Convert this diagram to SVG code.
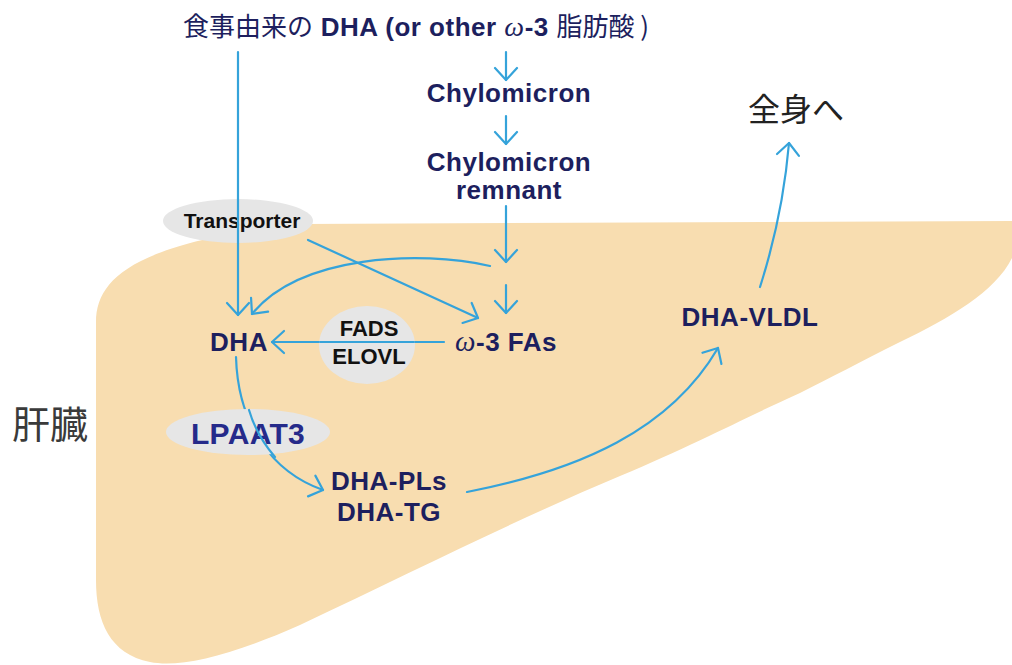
<svg xmlns="http://www.w3.org/2000/svg" width="1012" height="665" viewBox="0 0 1012 665">
  <style>
    .lbl { font-family: "Liberation Sans", Arial, "Noto Sans CJK JP", sans-serif; font-weight: bold; font-size: 26px; letter-spacing: 0.5px; fill: #1d1f5e; text-anchor: middle; }
    .jp { font-family: "Noto Sans CJK JP", sans-serif; font-weight: normal; letter-spacing: 0; }
    .om { font-family: "Liberation Serif", serif; font-style: italic; font-weight: normal; }
    .enz { font-family: "Liberation Sans", Arial, sans-serif; font-weight: bold; font-size: 21px; fill: #111; text-anchor: middle; }
    .bubble { fill: #e6e6e6; }
    .edge { fill: none; stroke: #35a3da; stroke-width: 2.2; stroke-linecap: round; }
  </style>
  <defs>
    <marker id="v" viewBox="-15 -13 17 26" refX="0" refY="0" markerWidth="17" markerHeight="26" markerUnits="userSpaceOnUse" orient="auto">
      <path d="M-12,-11 L0,0 L-12,11" fill="none" stroke="#35a3da" stroke-width="2.2" stroke-linecap="round" stroke-linejoin="round"/>
    </marker>
  </defs>
  <rect width="1012" height="665" fill="#ffffff"/>

  <!-- liver silhouette -->
  <path id="liver" d="M300,224 L1012,221 L1012,258 C995,292 950,318 900,342 C860,362 830,378 800,393 C740,420 700,442 620,476 C520,518 420,568 300,625 C230,656 180,668 150,662 C110,654 96,622 96,580 L96,322 C96,276 140,242 300,224 Z" fill="#f8ddb0"/>

  <!-- connectors -->
  <g id="connectors">
    <path class="edge" d="M238,52 L238,315" marker-end="url(#v)"/>
    <path class="edge" d="M506,52 L506,80" marker-end="url(#v)"/>
    <path class="edge" d="M506,116 L506,144" marker-end="url(#v)"/>
    <path class="edge" d="M506,206 L506,262" marker-end="url(#v)"/>
    <path class="edge" d="M506,285 L506,313" marker-end="url(#v)"/>
    <path class="edge" d="M490,266 C420,250 300,255 252,314" marker-end="url(#v)"/>
    <path class="edge" d="M308,240 L478,318" marker-end="url(#v)"/>
    <path class="edge" d="M444,342 L272,342" marker-end="url(#v)"/>
    <path class="edge" d="M236,357 C238,425 272,472 323,490" marker-end="url(#v)"/>
    <path class="edge" d="M467,492 C580,470 670,430 718,348" marker-end="url(#v)"/>
    <path class="edge" d="M760,287 C775,240 785,190 789,143" marker-end="url(#v)"/>
  </g>

  <!-- nodes -->
  <g id="title">
    <text class="lbl" x="416" y="36"><tspan class="jp">食事由来の</tspan> DHA (or other <tspan class="om" font-size="28">ω</tspan>-3 <tspan class="jp">脂肪酸 )</tspan></text>
  </g>
  <g id="chylomicron">
    <text class="lbl" x="509" y="102">Chylomicron</text>
  </g>
  <g id="remnant">
    <text class="lbl" x="509" y="171">Chylomicron</text>
    <text class="lbl" x="509" y="199">remnant</text>
  </g>
  <g id="transporter">
    <ellipse class="bubble" cx="238" cy="221" rx="75" ry="22"/>
    <text class="enz" x="242" y="228">Transporter</text>
    <path class="edge" d="M238,199 L238,243"/>
  </g>
  <g id="dha">
    <text class="lbl" x="239" y="351">DHA</text>
  </g>
  <g id="fads">
    <ellipse class="bubble" cx="367" cy="345" rx="48" ry="39"/>
    <text class="enz" x="369" y="336" style="font-size:22px">FADS</text>
    <text class="enz" x="369" y="364" style="font-size:22px">ELOVL</text>
    <path class="edge" d="M320,342 L414,342"/>
  </g>
  <g id="omega3">
    <text class="lbl" x="506" y="351"><tspan class="om" font-size="29">ω</tspan>-3 FAs</text>
  </g>
  <g id="lpaat3">
    <ellipse class="bubble" cx="248" cy="432" rx="82" ry="23"/>
    <text class="lbl" x="248" y="444" style="font-size:30px;fill:#252a8a;letter-spacing:0.3px">LPAAT3</text>
    <path class="edge" d="M249,410 C254,427 262,442 275,457"/>
  </g>
  <g id="dha-pl-tg">
    <text class="lbl" x="389" y="490">DHA-PLs</text>
    <text class="lbl" x="389" y="521">DHA-TG</text>
  </g>
  <g id="dha-vldl">
    <text class="lbl" x="750" y="326">DHA-VLDL</text>
  </g>
  <g id="body">
    <text x="796" y="121" font-size="32" text-anchor="middle" style="font-family:'Noto Sans CJK JP',sans-serif;fill:#222">全身へ</text>
  </g>
  <g id="liver-label">
    <text x="50" y="438" font-size="38" text-anchor="middle" style="font-family:'Noto Sans CJK JP',sans-serif;fill:#3a3a3a">肝臓</text>
  </g>
</svg>
